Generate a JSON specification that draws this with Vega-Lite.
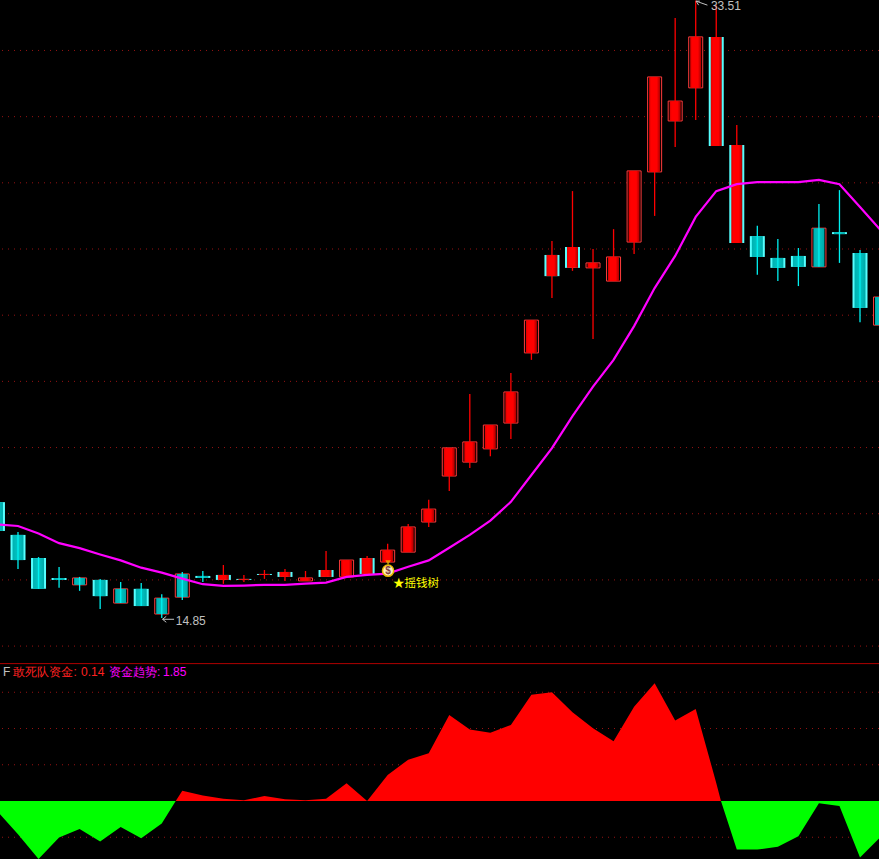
{"$schema":"https://vega.github.io/schema/vega-lite/v6.json","background":"#000000","padding":0,"spacing":0,"config":{"view":{"stroke":null},"concat":{"spacing":0}},
"datasets":{
"candles":[
{"i":0,"top":18.35,"bot":17.48,"high":18.35,"low":17.48,"body":"down","frame":"cyan"},
{"i":1,"top":17.36,"bot":16.60,"high":17.45,"low":16.33,"body":"down","frame":"cyan"},
{"i":2,"top":16.66,"bot":15.73,"high":16.69,"low":15.73,"body":"down","frame":"cyan"},
{"i":3,"top":16.06,"bot":16.00,"high":16.39,"low":15.76,"body":"down","frame":"cyan"},
{"i":4,"top":16.06,"bot":15.85,"high":16.09,"low":15.67,"body":"down","frame":"red"},
{"i":5,"top":16.00,"bot":15.51,"high":16.03,"low":15.12,"body":"down","frame":"cyan"},
{"i":6,"top":15.73,"bot":15.30,"high":15.94,"low":15.30,"body":"down","frame":"red"},
{"i":7,"top":15.73,"bot":15.21,"high":15.91,"low":15.21,"body":"down","frame":"cyan"},
{"i":8,"top":15.45,"bot":14.97,"high":15.57,"low":14.85,"body":"down","frame":"red"},
{"i":9,"top":16.18,"bot":15.48,"high":16.24,"low":15.39,"body":"down","frame":"red"},
{"i":10,"top":16.12,"bot":16.06,"high":16.27,"low":15.94,"body":"down","frame":"cyan"},
{"i":11,"top":16.15,"bot":16.00,"high":16.45,"low":15.88,"body":"up","frame":"cyan"},
{"i":12,"top":16.03,"bot":16.00,"high":16.15,"low":15.94,"body":"up","frame":"cyan"},
{"i":13,"top":16.18,"bot":16.15,"high":16.30,"low":16.03,"body":"up","frame":"cyan"},
{"i":14,"top":16.24,"bot":16.09,"high":16.33,"low":15.97,"body":"up","frame":"cyan"},
{"i":15,"top":16.06,"bot":15.97,"high":16.27,"low":15.97,"body":"up","frame":"red"},
{"i":16,"top":16.30,"bot":16.09,"high":16.87,"low":16.09,"body":"up","frame":"cyan"},
{"i":17,"top":16.60,"bot":16.09,"high":16.60,"low":16.09,"body":"up","frame":"red"},
{"i":18,"top":16.66,"bot":16.18,"high":16.72,"low":16.18,"body":"up","frame":"cyan"},
{"i":19,"top":16.90,"bot":16.54,"high":17.09,"low":16.54,"body":"up","frame":"red"},
{"i":20,"top":17.60,"bot":16.84,"high":17.69,"low":16.84,"body":"up","frame":"red"},
{"i":21,"top":18.14,"bot":17.75,"high":18.42,"low":17.60,"body":"up","frame":"red"},
{"i":22,"top":19.99,"bot":19.14,"high":19.99,"low":18.69,"body":"up","frame":"red"},
{"i":23,"top":20.17,"bot":19.56,"high":21.62,"low":19.38,"body":"up","frame":"red"},
{"i":24,"top":20.68,"bot":19.96,"high":20.68,"low":19.74,"body":"up","frame":"red"},
{"i":25,"top":21.68,"bot":20.74,"high":22.25,"low":20.26,"body":"up","frame":"red"},
{"i":26,"top":23.85,"bot":22.86,"high":23.85,"low":22.65,"body":"up","frame":"red"},
{"i":27,"top":25.82,"bot":25.18,"high":26.24,"low":24.52,"body":"up","frame":"cyan"},
{"i":28,"top":26.06,"bot":25.43,"high":27.75,"low":25.34,"body":"up","frame":"cyan"},
{"i":29,"top":25.58,"bot":25.43,"high":26.00,"low":23.28,"body":"up","frame":"red"},
{"i":30,"top":25.76,"bot":25.03,"high":26.60,"low":25.03,"body":"up","frame":"red"},
{"i":31,"top":28.36,"bot":26.21,"high":28.36,"low":25.85,"body":"up","frame":"red"},
{"i":32,"top":31.20,"bot":28.33,"high":31.20,"low":27.00,"body":"up","frame":"red"},
{"i":33,"top":30.47,"bot":29.87,"high":32.98,"low":29.08,"body":"up","frame":"red"},
{"i":34,"top":32.41,"bot":30.87,"high":33.51,"low":29.90,"body":"up","frame":"red"},
{"i":35,"top":32.41,"bot":29.11,"high":33.37,"low":29.11,"body":"up","frame":"cyan"},
{"i":36,"top":29.14,"bot":26.18,"high":29.75,"low":26.18,"body":"up","frame":"cyan"},
{"i":37,"top":26.39,"bot":25.76,"high":26.70,"low":25.22,"body":"down","frame":"cyan"},
{"i":38,"top":25.73,"bot":25.43,"high":26.30,"low":25.03,"body":"down","frame":"cyan"},
{"i":39,"top":25.79,"bot":25.46,"high":26.03,"low":24.88,"body":"down","frame":"cyan"},
{"i":40,"top":26.63,"bot":25.46,"high":27.36,"low":25.46,"body":"down","frame":"red"},
{"i":41,"top":26.51,"bot":26.45,"high":27.78,"low":25.58,"body":"down","frame":"cyan"},
{"i":42,"top":25.88,"bot":24.22,"high":25.97,"low":23.79,"body":"down","frame":"cyan"},
{"i":43,"top":24.55,"bot":23.70,"high":24.55,"low":23.70,"body":"down","frame":"red"}
],
"ma":[
{"i":0,"ma":17.68},{"i":1,"ma":17.63},{"i":2,"ma":17.40},{"i":3,"ma":17.11},{"i":4,"ma":16.96},{"i":5,"ma":16.77},{"i":6,"ma":16.59},{"i":7,"ma":16.37},{"i":8,"ma":16.22},{"i":9,"ma":16.04},{"i":10,"ma":15.87},{"i":11,"ma":15.82},{"i":12,"ma":15.83},{"i":13,"ma":15.85},{"i":14,"ma":15.85},{"i":15,"ma":15.89},{"i":16,"ma":15.92},{"i":17,"ma":16.09},{"i":18,"ma":16.15},{"i":19,"ma":16.19},{"i":20,"ma":16.40},{"i":21,"ma":16.59},{"i":22,"ma":16.97},{"i":23,"ma":17.36},{"i":24,"ma":17.79},{"i":25,"ma":18.36},{"i":26,"ma":19.17},{"i":27,"ma":19.98},{"i":28,"ma":20.95},{"i":29,"ma":21.84},{"i":30,"ma":22.65},{"i":31,"ma":23.67},{"i":32,"ma":24.82},{"i":33,"ma":25.79},{"i":34,"ma":26.97},{"i":35,"ma":27.75},{"i":36,"ma":27.96},{"i":37,"ma":28.02},{"i":38,"ma":28.02},{"i":39,"ma":28.02},{"i":40,"ma":28.09},{"i":41,"ma":27.96},{"i":42,"ma":27.27},{"i":43,"ma":26.57}
],
"flow":[
{"i":0,"v":-0.29},{"i":1,"v":-0.92},{"i":2,"v":-1.60},{"i":3,"v":-1.01},{"i":4,"v":-0.77},{"i":5,"v":-1.12},{"i":6,"v":-0.72},{"i":7,"v":-1.03},{"i":8,"v":-0.62},{"i":8.68,"v":0},{"i":9,"v":0.28},{"i":10,"v":0.15},{"i":11,"v":0.06},{"i":12,"v":0.02},{"i":13,"v":0.14},{"i":14,"v":0.05},{"i":15,"v":0.02},{"i":16,"v":0.06},{"i":17,"v":0.49},{"i":18,"v":0},{"i":19,"v":0.72},{"i":20,"v":1.14},{"i":21,"v":1.32},{"i":22,"v":2.37},{"i":23,"v":1.97},{"i":24,"v":1.88},{"i":25,"v":2.10},{"i":26,"v":2.93},{"i":27,"v":3.00},{"i":28,"v":2.45},{"i":29,"v":2.01},{"i":30,"v":1.65},{"i":31,"v":2.60},{"i":32,"v":3.25},{"i":33,"v":2.22},{"i":34,"v":2.54},{"i":35,"v":0.50},{"i":35.23,"v":0},{"i":36,"v":-1.34},{"i":37,"v":-1.34},{"i":38,"v":-1.26},{"i":39,"v":-0.97},{"i":40,"v":-0.06},{"i":41,"v":-0.14},{"i":42,"v":-1.56},{"i":43,"v":-0.99}
],
"pointer":[
{"i":34.02,"p":33.49,"i2":34.57,"p2":33.37},
{"i":34.02,"p":33.49,"i2":34.2,"p2":33.49},
{"i":34.02,"p":33.49,"i2":34.14,"p2":33.37},
{"i":8.04,"p":14.81,"i2":8.6,"p2":14.81},
{"i":8.04,"p":14.81,"i2":8.22,"p2":14.9},
{"i":8.04,"p":14.81,"i2":8.22,"p2":14.72}
],
"mainText":[
{"i":8.68,"p":14.77,"t":"14.85"},
{"i":34.74,"p":33.34,"t":"33.51"}
],
"headerText":[
{"i":0.27,"v":3.56,"t":"F","c":"#c0c0c0","font":"Liberation Sans"},
{"i":0.78,"v":3.56,"t":"敢死队资金:","c":"#ff2020","font":"Noto Sans CJK SC"},
{"i":4.07,"v":3.56,"t":"0.14","c":"#ff2020","font":"Liberation Sans"},
{"i":5.43,"v":3.56,"t":"资金趋势:","c":"#ff00ff","font":"Noto Sans CJK SC"},
{"i":8.06,"v":3.56,"t":"1.85","c":"#ff00ff","font":"Liberation Sans"}
]
},
"vconcat":[
{"width":879,"height":663,
"layer":[
{"data":{"values":[{"g":14},{"g":16},{"g":18},{"g":20},{"g":22},{"g":24},{"g":26},{"g":28},{"g":30},{"g":32}]},"mark":{"type":"rule","clip":true,"color":"#961212","strokeDash":[1,5],"strokeWidth":1},
"encoding":{"y":{"field":"g","type":"quantitative","scale":{"domain":[13.489,33.525],"nice":false,"zero":false},"axis":null}}},
{"data":{"name":"candles"},"transform":[{"filter":"datum.frame==='cyan'"}],"mark":{"type":"bar","clip":true,"orient":"vertical","size":15,"fill":"#55ffff"},
"encoding":{"x":{"field":"i","type":"quantitative","scale":{"domain":[0.1237,42.925],"nice":false,"zero":false,"padding":0},"axis":null},
"y":{"field":"top","type":"quantitative"},
"y2":{"field":"bot"}}},
{"data":{"name":"candles"},"transform":[{"filter":"datum.frame==='red'"}],"mark":{"type":"bar","clip":true,"orient":"vertical","size":14,"fill":"#000000","stroke":"#ff3c3c","strokeWidth":1},
"encoding":{"x":{"field":"i","type":"quantitative"},"y":{"field":"top","type":"quantitative"},"y2":{"field":"bot"}}},
{"data":{"name":"candles"},"transform":[{"filter":"datum.body==='up'"}],"mark":{"type":"bar","clip":true,"orient":"vertical","size":11,"fill":{"gradient":"linear","x1":0,"y1":0,"x2":1,"y2":0,"stops":[{"offset":0,"color":"#e00000"},{"offset":0.2,"color":"#ff0000"},{"offset":0.7,"color":"#ff0000"},{"offset":1,"color":"#a80000"}]}},
"encoding":{"x":{"field":"i","type":"quantitative"},"y":{"field":"top","type":"quantitative"},"y2":{"field":"bot"}}},
{"data":{"name":"candles"},"transform":[{"filter":"datum.body==='down'"}],"mark":{"type":"bar","clip":true,"orient":"vertical","size":11,"fill":{"gradient":"linear","x1":0,"y1":0,"x2":1,"y2":0,"stops":[{"offset":0,"color":"#00b0b0"},{"offset":0.5,"color":"#00c4c4"},{"offset":1,"color":"#00a8a8"}]}},
"encoding":{"x":{"field":"i","type":"quantitative"},"y":{"field":"top","type":"quantitative"},"y2":{"field":"bot"}}},
{"data":{"name":"candles"},"mark":{"type":"rule","clip":true,"strokeWidth":1.3},
"encoding":{"x":{"field":"i","type":"quantitative"},"y":{"field":"high","type":"quantitative"},"y2":{"field":"low"},"color":{"field":"body","type":"nominal","scale":{"domain":["up","down"],"range":["#ff0000","#00f0f0"]},"legend":null}}},
{"data":{"name":"ma"},"mark":{"type":"line","clip":true,"color":"#ff00ff","strokeWidth":2.2,"interpolate":"linear"},
"encoding":{"x":{"field":"i","type":"quantitative"},"y":{"field":"ma","type":"quantitative"}}},
{"data":{"values":[{"i":19.02,"p":16.52}]},"mark":{"type":"point","clip":true,"shape":"triangle-down","filled":true,"size":30,"color":"#f0c800"},
"encoding":{"x":{"field":"i","type":"quantitative"},"y":{"field":"p","type":"quantitative"}}},
{"data":{"values":[{"i":19.02,"p":16.28}]},"mark":{"type":"point","clip":true,"shape":"circle","filled":true,"size":125,"fill":"#fff0c0","stroke":"#e8b800","strokeWidth":1.5,"opacity":1},
"encoding":{"x":{"field":"i","type":"quantitative"},"y":{"field":"p","type":"quantitative"}}},
{"data":{"values":[{"i":19.02,"p":16.27,"t":"$"}]},"mark":{"type":"text","clip":true,"font":"Liberation Sans","fontSize":10,"fontWeight":"bold","color":"#804040","align":"center","baseline":"middle"},
"encoding":{"x":{"field":"i","type":"quantitative"},"y":{"field":"p","type":"quantitative"},"text":{"field":"t"}}},
{"data":{"values":[{"i":19.26,"p":15.88,"t":"★摇钱树"}]},"mark":{"type":"text","clip":true,"font":"Noto Sans CJK SC","fontSize":11.5,"color":"#ffff00","align":"left","baseline":"middle"},
"encoding":{"x":{"field":"i","type":"quantitative"},"y":{"field":"p","type":"quantitative"},"text":{"field":"t"}}},
{"data":{"name":"pointer"},"mark":{"type":"rule","clip":true,"color":"#c0c0c0","strokeWidth":1},
"encoding":{"x":{"field":"i","type":"quantitative"},"x2":{"field":"i2"},"y":{"field":"p","type":"quantitative"},"y2":{"field":"p2"}}},
{"data":{"name":"mainText"},"mark":{"type":"text","clip":true,"font":"Liberation Sans","fontSize":12,"color":"#c0c0c0","align":"left","baseline":"middle"},
"encoding":{"x":{"field":"i","type":"quantitative"},"y":{"field":"p","type":"quantitative"},"text":{"field":"t"}}}
],
"resolve":{"scale":{"color":"independent"}}
},
{"width":879,"height":196,
"layer":[
{"data":{"values":[{"g":-1},{"g":1},{"g":2},{"g":3}]},"mark":{"type":"rule","clip":true,"color":"#961212","strokeDash":[1,5],"strokeWidth":1},
"encoding":{"y":{"field":"g","type":"quantitative","scale":{"domain":[-1.6,3.807],"nice":false,"zero":false},"axis":null}}},
{"data":{"name":"flow"},"transform":[{"filter":"datum.v>=0"}],"mark":{"type":"area","clip":true,"color":"#ff0000","interpolate":"linear"},
"encoding":{"x":{"field":"i","type":"quantitative","scale":{"domain":[0.1237,42.925],"nice":false,"zero":false},"axis":null},
"y":{"field":"v","type":"quantitative"},
"y2":{"datum":0}}},
{"data":{"name":"flow"},"transform":[{"filter":"datum.v<=0"}],"mark":{"type":"area","clip":true,"color":"#00ff00","interpolate":"linear"},
"encoding":{"x":{"field":"i","type":"quantitative"},"y":{"field":"v","type":"quantitative"},"y2":{"datum":0}}},
{"data":{"values":[{"level":3.79}]},"mark":{"type":"rule","clip":true,"color":"#b00000","strokeWidth":1},
"encoding":{"y":{"field":"level","type":"quantitative"}}},
{"data":{"name":"headerText"},"mark":{"type":"text","clip":true,"fontSize":12,"align":"left","baseline":"middle"},
"encoding":{"x":{"field":"i","type":"quantitative"},"y":{"field":"v","type":"quantitative"},"text":{"field":"t"},"color":{"field":"c","type":"nominal","scale":null},"font":{"field":"font"}}}
]
}
]}
